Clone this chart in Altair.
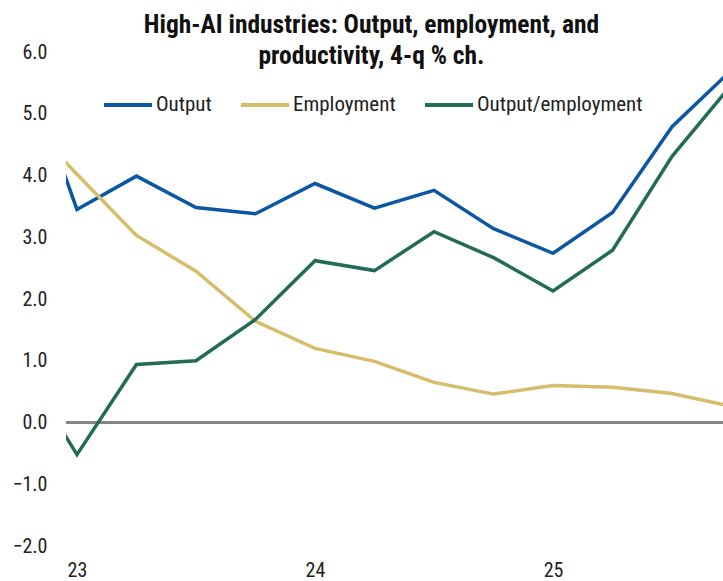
import altair as alt
import pandas as pd

# Quarterly data points (year fractions): 22Q4 .. 25Q4
quarters = [2022.75, 2023.0, 2023.25, 2023.5, 2023.75, 2024.0, 2024.25, 2024.5,
            2024.75, 2025.0, 2025.25, 2025.5, 2025.75]
output = [6.15, 3.45, 3.99, 3.48, 3.38, 3.87, 3.47, 3.76, 3.14, 2.74, 3.40, 4.79, 5.71]
employment = [5.05, 4.02, 3.03, 2.45, 1.64, 1.20, 0.99, 0.65, 0.46, 0.60, 0.57, 0.47, 0.26]
productivity = [1.05, -0.52, 0.94, 1.00, 1.67, 2.62, 2.46, 3.09, 2.67, 2.13, 2.79, 4.31, 5.47]

series_names = ["Output", "Employment", "Output/employment"]
series_colors = ["#0a57a3", "#d5bd6a", "#226b56"]

y_ticks = [-2, -1, 0, 1, 2, 3, 4, 5, 6]
x_ticks = [2023, 2024, 2025]

rows = []
for name, vals in zip(series_names, [output, employment, productivity]):
    for q, v in zip(quarters, vals):
        rows.append({"q": q, "value": v, "series": name})
df = pd.DataFrame(rows)

FONT = "Roboto Condensed, Liberation Sans Narrow, DejaVu Sans Condensed, Roboto"

x_scale = alt.Scale(domain=[2022.954, 2025.714], nice=False, zero=False)
y_scale = alt.Scale(domain=[-2, 6], nice=False)

zero = alt.Chart(pd.DataFrame({"y": [0]})).mark_rule(
    color="#858585", strokeWidth=3
).encode(y=alt.Y("y:Q", scale=y_scale))

lines = alt.Chart(df).mark_line(strokeWidth=3.5, clip=True).encode(
    x=alt.X("q:Q", scale=x_scale, title=None,
            axis=alt.Axis(values=x_ticks, labelExpr="substring(toString(datum.value), 2, 4)",
                          ticks=False, domain=False, grid=False, labelPadding=14,
                          labelFontSize=20, labelColor="#222", labelFont=FONT)),
    y=alt.Y("value:Q", scale=y_scale, title=None,
            axis=alt.Axis(values=y_ticks, format=".1f", ticks=False, domain=False,
                          grid=False, labelPadding=19, labelFontSize=20,
                          labelColor="#222", labelFont=FONT)),
    color=alt.Color("series:N", sort=series_names,
                    scale=alt.Scale(domain=series_names, range=series_colors),
                    legend=alt.Legend(title=None, orient="none", legendX=36, legendY=27,
                                      direction="horizontal", symbolType="stroke",
                                      symbolSize=2304, symbolStrokeWidth=4,
                                      labelFontSize=21, labelFont=FONT, labelColor="#222",
                                      labelOffset=2, columnPadding=21, labelLimit=400)),
    order=alt.Order("q:Q"),
)

chart = alt.layer(zero, lines).properties(
    width=657, height=494,
    autosize=alt.AutoSizeParams(type="none"),
    padding={"left": 66, "top": 52, "right": 0, "bottom": 35},
    title=alt.Title(["High-AI industries: Output, employment, and",
                     "productivity, 4-q % ch."],
                    anchor="middle", frame="group", dx=-23, offset=-27,
                    fontSize=25.5, fontWeight="bold", font=FONT, color="#111",
                    lineHeight=31),
).configure_view(stroke=None)

chart.save("out.html", embed_options={"renderer": "svg", "actions": False})
